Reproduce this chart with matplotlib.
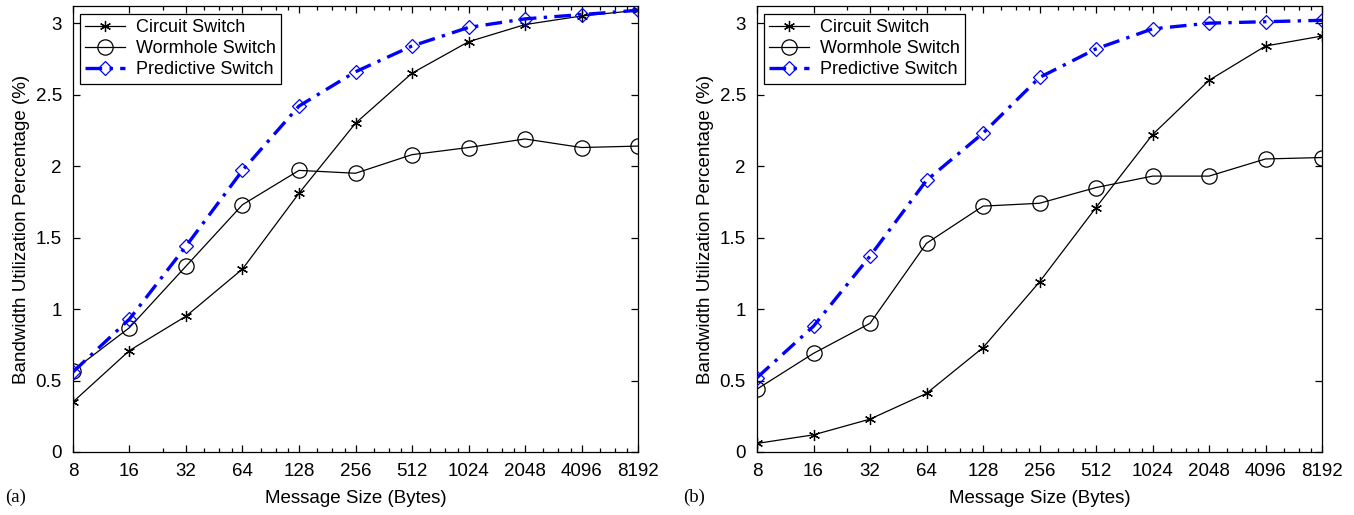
import numpy as np
import matplotlib
matplotlib.use("Agg")
import matplotlib.pyplot as plt
from matplotlib.ticker import NullFormatter, FixedLocator, FixedFormatter

sizes = [8, 16, 32, 64, 128, 256, 512, 1024, 2048, 4096, 8192]
size_labels = [str(s) for s in sizes]
minor_x = [24, 40, 48, 56, 80, 96, 112, 160, 192, 224, 320, 384, 448, 640, 768, 896,
           1280, 1536, 1792, 2560, 3072, 3584, 5120, 6144, 7168]

circuit_a = [0.35, 0.71, 0.95, 1.28, 1.81, 2.30, 2.65, 2.87, 2.99, 3.05, 3.09]
wormhole_a = [0.57, 0.87, 1.30, 1.73, 1.97, 1.95, 2.08, 2.13, 2.19, 2.13, 2.14]
predictive_a = [0.56, 0.93, 1.44, 1.97, 2.42, 2.66, 2.84, 2.97, 3.03, 3.06, 3.09]

circuit_b = [0.06, 0.12, 0.23, 0.41, 0.73, 1.19, 1.71, 2.22, 2.60, 2.84, 2.91]
wormhole_b = [0.44, 0.69, 0.90, 1.46, 1.72, 1.74, 1.85, 1.93, 1.93, 2.05, 2.06]
predictive_b = [0.52, 0.88, 1.37, 1.90, 2.23, 2.62, 2.82, 2.96, 3.00, 3.01, 3.02]

yticks = [0, 0.5, 1, 1.5, 2, 2.5, 3]
ytick_labels = ["0", "0.5", "1", "1.5", "2", "2.5", "3"]

plt.rcParams['font.family'] = ['Liberation Sans', 'DejaVu Sans']

fig = plt.figure(figsize=(13.54, 5.15), dpi=100)
W, H = 1354, 515

def make_axes(left_px):
    return fig.add_axes([left_px / W, (515 - 452) / H, 565 / W, 446 / H])

panels = [
    (73, circuit_a, wormhole_a, predictive_a, "(a)", 5),
    (757, circuit_b, wormhole_b, predictive_b, "(b)", 683),
]

for left_px, c, w, p, tag, tag_x in panels:
    ax = make_axes(left_px)
    ax.set_xscale('log', base=2)
    ax.plot(sizes, c, color='black', lw=0.9, marker=(6, 2, 0), ms=8, mew=0.9,
            label='Circuit Switch', zorder=3)
    ax.plot(sizes, w, color='black', lw=0.9, marker='o', ms=11, mfc='none', mew=0.9,
            label='Wormhole Switch', zorder=3)
    ax.plot(sizes, p, color='#0000ff', lw=2.4, ls=(0, (5, 2.2, 1, 2.2)), marker='D', ms=7.5,
            mfc='none', mec='#0000ff', mew=0.9, label='Predictive Switch', zorder=4)
    ax.set_xlim(8, 8192)
    ax.set_ylim(0, 3.12)
    ax.xaxis.set_major_locator(FixedLocator(sizes))
    ax.xaxis.set_major_formatter(FixedFormatter(size_labels))
    ax.xaxis.set_minor_locator(FixedLocator(minor_x))
    ax.xaxis.set_minor_formatter(NullFormatter())
    ax.set_yticks(yticks)
    ax.set_yticklabels(ytick_labels)
    ax.tick_params(which='both', direction='in', top=True, right=True, labelsize=13.5, width=0.9)
    ax.tick_params(which='major', length=5, pad=8)
    ax.tick_params(which='minor', length=3)
    for s in ax.spines.values():
        s.set_linewidth(0.9)
    ax.set_xlabel('Message Size (Bytes)', fontsize=13.5, labelpad=7)
    ax.set_ylabel('Bandwidth Utilization Percentage (%)', fontsize=13.5, labelpad=4)
    leg = ax.legend(loc='upper left', bbox_to_anchor=(7 / 565, 1 - 8 / 446), fontsize=13,
                    frameon=True, fancybox=False, framealpha=1, edgecolor='black',
                    handlelength=2.2, borderpad=0.3, labelspacing=0.22, handletextpad=0.6,
                    borderaxespad=0)
    leg.get_frame().set_linewidth(0.9)
    fig.text(tag_x / W, 1 - 497 / H, tag, fontsize=13.5, family=['Liberation Serif'],
             va='center', ha='left')

fig.savefig('out.png', dpi=100)
